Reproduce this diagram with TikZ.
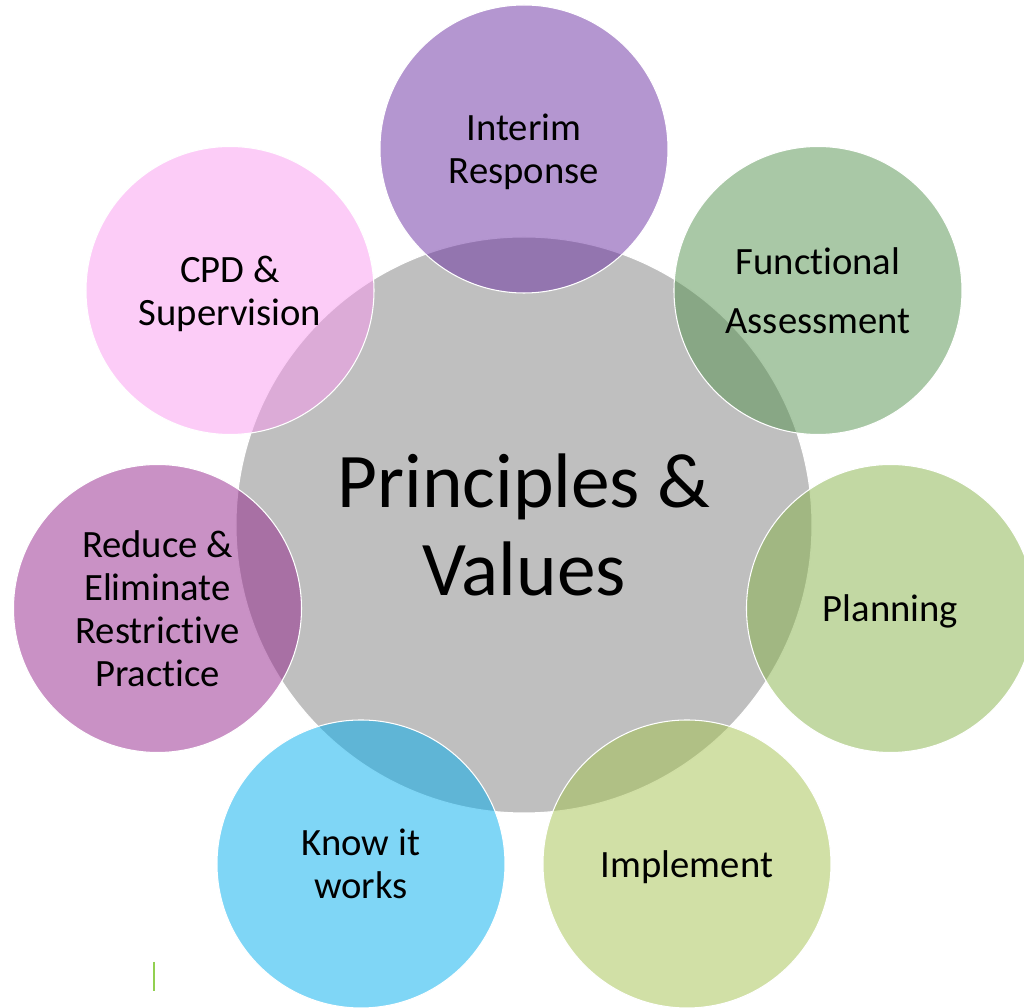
\documentclass[tikz,border=0pt]{standalone}
\usepackage{fontspec}
\setmainfont[Ligatures={NoCommon,NoContextual},Contextuals=NoAlternate]{Carlito}
\usetikzlibrary{positioning}

\definecolor{hubgrey}{RGB}{191,191,191}
\definecolor{ircol}{RGB}{105,45,161}
\definecolor{facol}{RGB}{83,145,77}
\definecolor{plcol}{RGB}{133,177,71}
\definecolor{imcol}{RGB}{163,193,77}
\definecolor{kwcol}{RGB}{0,173,237}
\definecolor{recol}{RGB}{147,35,139}
\definecolor{cpdcol}{RGB}{249,153,239}
\definecolor{tickgreen}{RGB}{146,208,80}

\begin{document}
\begin{tikzpicture}[thick,
  hub/.style={circle,draw=white,line width=0.6pt,fill=hubgrey,minimum size=11.52cm,inner sep=0pt,align=center,font=\fontsize{44}{50}\selectfont},
  petal/.style={circle,draw=white,line width=0.6pt,fill opacity=0.5,draw opacity=1,text opacity=1,minimum size=5.76cm,inner sep=0pt,text depth=0pt,align=center,font=\fontsize{22}{24.5}\selectfont}]

		  \useasboundingbox (-10.48,10.5) rectangle (10.0,-9.66);
		  \clip (-10.48,10.5) rectangle (10.0,-9.66);

		  % Mitte
		  \node[hub] (PV) at (0,0) {Principles \&\\Values};

		  % Kreise rundherum
		  \node[petal,fill=ircol]  (IR)  [above=7.52cm of PV.center,anchor=center] {Interim\\Response};
		  \node[petal,fill=facol,font=\fontsize{22}{33.4}\selectfont] (FA) [above right=4.69cm and 5.88cm of PV.center,anchor=center] {Functional\\Assessment};
		  \node[petal,fill=plcol]  (PL)  [below right=1.67cm and 7.33cm of PV.center,anchor=center] {Planning};
		  \node[petal,fill=imcol]  (IM)  [below right=6.78cm and 3.26cm of PV.center,anchor=center] {Implement};
		  \node[petal,fill=kwcol]  (KW)  [below left=6.78cm and 3.26cm of PV.center,anchor=center] {Know it\\works};
		  \node[petal,fill=recol]  (RE)  [below left=1.67cm and 7.33cm of PV.center,anchor=center] {Reduce \&\\Eliminate\\Restrictive\\Practice};
		  \node[petal,fill=cpdcol] (CPD) [above left=4.69cm and 5.88cm of PV.center,anchor=center] {CPD \&\\Supervision};

		  % kleiner Strich unten links
		  \draw[tickgreen,line width=1.1pt] (-7.40,-8.74) -- (-7.40,-9.32);

		\end{tikzpicture}
\end{document}
